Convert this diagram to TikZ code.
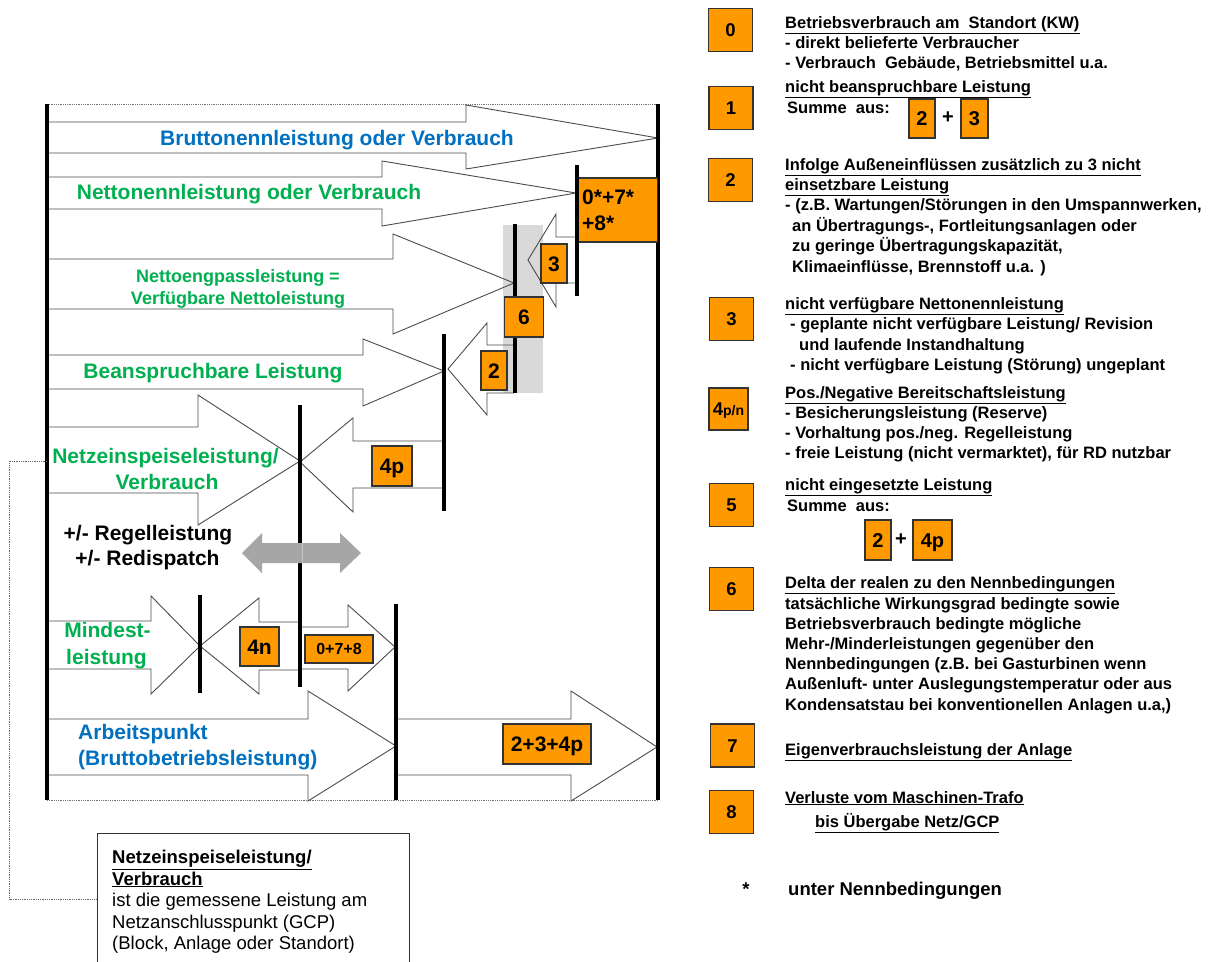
\documentclass[tikz,border=0pt]{standalone}
\usepackage{fontspec}
\setmainfont{Liberation Sans}
\definecolor{bluT}{HTML}{0070C0}
\definecolor{grnT}{HTML}{00B050}
\definecolor{orgF}{HTML}{FF9900}
\definecolor{grayR}{HTML}{D9D9D9}
\definecolor{grayA}{HTML}{A6A6A6}
\definecolor{grayS}{HTML}{C4C4C4}
\newcommand\fsz[1]{\fontsize{#1}{#1}\selectfont}
\newcommand\lgl[4]{\node[leg] (#1) at (#2,#3) {#4};}
\begin{document}
\begin{tikzpicture}[x=1pt,y=-1pt,
  outl/.style={draw=black!70, line width=0.9pt, line join=miter},
  vbar/.style={line width=4pt, black},
  frame/.style={densely dotted, draw=black!55, line width=0.8pt},
  obox/.style={draw=black!80, line width=1.3pt, fill=orgF, inner sep=0pt, font=\bfseries\fsz{21}, text height=15pt, text depth=0pt},
  lbox/.style={obox, minimum width=44pt, minimum height=43pt, font=\bfseries\fsz{18.5}, text height=13.3pt},
  dlab/.style={font=\bfseries\fsz{21}, inner sep=0pt, anchor=base},
  leg/.style={font=\bfseries\fsz{16.5}, inner sep=0pt, anchor=base west},
  nleg/.style={font=\fsz{18.5}, inner sep=0pt, anchor=base west}
]
\useasboundingbox (0,0) rectangle (1220,961);
\fill[white] (0,0) rectangle (1220,961);

% gray background band
\fill[grayR] (503,225) rectangle (543,393);

% frame lines
\draw[frame] (47,104) -- (658,104);
\draw[frame] (47,800) -- (658,800);

% right-pointing block arrows (outlines only)
\draw[outl] (47,122) -- (466,122) -- (466,105) -- (658,138) -- (466,169) -- (466,153) -- (47,153);
\draw[outl] (47,177) -- (382,177) -- (382,161) -- (576,193) -- (382,226) -- (382,209) -- (47,209);
\draw[outl] (47,259) -- (393,259) -- (393,234) -- (514,283) -- (393,334) -- (393,309) -- (47,309);
\draw[outl] (47,355) -- (363,355) -- (363,339) -- (444,371) -- (363,406) -- (363,389) -- (47,389);
\draw[outl] (47,427) -- (198,427) -- (198,395) -- (300,461) -- (198,525) -- (198,493) -- (47,493);
\draw[outl] (47,621) -- (151,621) -- (151,596) -- (200,646) -- (151,694) -- (151,669) -- (47,669);
\draw[outl] (300,627) -- (348,627) -- (348,605) -- (395,647) -- (348,691) -- (348,669) -- (300,669);
\draw[outl] (47,719) -- (308,719) -- (308,691) -- (396,746) -- (308,801) -- (308,775) -- (47,775);
\draw[outl] (397,719) -- (571,719) -- (571,691) -- (657,747) -- (571,801) -- (571,775) -- (397,775);

% left-pointing block arrows
\draw[outl] (576,237) -- (556,237) -- (556,214) -- (528,260) -- (556,307) -- (556,283) -- (576,283);
\draw[outl] (514,345) -- (487,345) -- (487,323) -- (448,369) -- (487,415) -- (487,393) -- (514,393);
\draw[outl] (444,441) -- (353,441) -- (353,418) -- (300,462) -- (353,512) -- (353,488) -- (444,488);
\draw[outl] (300,622) -- (259,622) -- (259,598) -- (200,646) -- (259,694) -- (259,670) -- (300,670);

% vertical bars
\draw[vbar] (47,104) -- (47,800);
\draw[vbar] (658,104) -- (658,800);
\draw[vbar] (515,224) -- (515,393);
\draw[vbar] (444,334) -- (444,511);
\draw[vbar] (300,405) -- (300,687);
\draw[vbar] (200,595) -- (200,693);
\draw[vbar] (396,604) -- (396,800);

% gray double arrow (lies over the bar)
\fill[grayA] (242,553) -- (262,533) -- (262,543) -- (340,543) -- (340,533) -- (361,553)
  -- (340,573) -- (340,563) -- (262,563) -- (262,573) -- cycle;
\draw[grayS, line width=0.8pt] (302,543) -- (302,563);

% orange boxes in the diagram
\node[obox, minimum width=81pt, minimum height=64pt] (b078s) at (617,210) {};
\node[dlab, anchor=base west] (b078sa) at (582,204.5) {0*+7*};
\node[dlab, anchor=base west] (b078sb) at (582,230.5) {+8*};
\draw[vbar] (577,165) -- (577,296);
\node[obox, minimum width=26pt, minimum height=39pt] (b3) at (554,263.5) {3};
\node[obox, minimum width=39pt, minimum height=40pt] (b6) at (524,317) {6};
\node[obox, minimum width=26pt, minimum height=39pt] (b2) at (494,370.5) {2};
\node[obox, minimum width=40pt, minimum height=40pt] (b4p) at (392,466) {4p};
\node[obox, minimum width=39pt, minimum height=39pt] (b4n) at (259.5,646.5) {4n};
\node[obox, minimum width=68pt, minimum height=28pt, font=\bfseries\fsz{16}, text height=11.5pt] (b078) at (339,649) {0+7+8};
\node[obox, minimum width=88pt, minimum height=40pt] (b234) at (547,744) {2+3+4p};

% diagram labels
\node[dlab, text=bluT] (tbrutto) at (337,145.5) {Bruttonennleistung oder Verbrauch};
\node[dlab, text=grnT] (tnetto) at (249,199.5) {Nettonennleistung oder Verbrauch};
\node[dlab, text=grnT, font=\bfseries\fsz{18}] (tengA) at (238,282.5) {Nettoengpassleistung =};
\node[dlab, text=grnT, font=\bfseries\fsz{18}] (tengB) at (238,304.5) {Verfügbare Nettoleistung};
\node[dlab, text=grnT] (tbean) at (213,378.5) {Beanspruchbare Leistung};
\node[dlab, text=grnT] (tnetzA) at (165.5,463.5) {Netzeinspeiseleistung/};
\node[dlab, text=grnT] (tnetzB) at (167,489.5) {Verbrauch};
\node[dlab] (tregA) at (148,540.5) {+/- Regelleistung};
\node[dlab] (tregB) at (147.5,565.5) {+/- Redispatch};
\node[dlab, text=grnT] (tminA) at (107.5,637.5) {Mindest-};
\node[dlab, text=grnT] (tminB) at (106.5,664.5) {leistung};
\node[dlab, text=bluT, anchor=base west] (tarbA) at (78,739.5) {Arbeitspunkt};
\node[dlab, text=bluT, anchor=base west] (tarbB) at (78,765.5) {(Bruttobetriebsleistung)};

% explanation box and dotted connector
\node[draw=black!80, line width=0.9pt, minimum width=312pt, minimum height=132pt, inner sep=0pt] (gcp) at (253,899) {};
\node[nleg, font=\bfseries\fsz{18.5}] (gcpA) at (112,863.5) {\underline{Netzeinspeiseleistung/}};
\node[nleg, font=\bfseries\fsz{18.5}] (gcpB) at (112,885) {\underline{Verbrauch}};
\node[nleg] (gcpC) at (112,906.5) {ist die gemessene Leistung am};
\node[nleg] (gcpD) at (112,928) {Netzanschlusspunkt (GCP)};
\node[nleg] (gcpE) at (112,949.5) {(Block, Anlage oder Standort)};
\coordinate (nzref) at (47,461);
\coordinate (nzturn) at (9.5,461);
\draw[densely dotted, draw=black!60, line width=0.8pt] (nzref) -- (nzturn) |- (gcp.west);

% legend boxes
\node[lbox] (L0) at (730.5,30) {0};
\node[lbox] (L1) at (731,108) {1};
\node[lbox] (L2) at (730.5,180) {2};
\node[lbox] (L3) at (731.5,319) {3};
\node[lbox, minimum width=39pt, minimum height=42pt] (L4) at (728.5,409) {4{\fsz{14}p/n}};
\node[lbox] (L5) at (731.5,505) {5};
\node[lbox] (L6) at (731.5,589) {6};
\node[lbox] (L7) at (732.5,745.5) {7};
\node[lbox] (L8) at (731.5,812) {8};
\node[obox, minimum width=26pt, minimum height=39pt, font=\bfseries\fsz{20}, text height=14.3pt] (S1a) at (922,118.5) {2};
\node[dlab, font=\bfseries\fsz{20}, anchor=center] (S1p) at (948,118) {+};
\node[obox, minimum width=27pt, minimum height=39pt, font=\bfseries\fsz{20}, text height=14.3pt] (S1b) at (974.5,118.5) {3};
\node[obox, minimum width=26pt, minimum height=40pt, font=\bfseries\fsz{20}, text height=14.3pt] (S5a) at (878,540) {2};
\node[dlab, font=\bfseries\fsz{20}, anchor=center] (S5p) at (901,540) {+};
\node[obox, minimum width=39pt, minimum height=40pt, font=\bfseries\fsz{20}, text height=14.3pt] (S5b) at (932.5,540) {4p};

% legend texts
\lgl{lg0a}{785}{28.5}{\underline{Betriebsverbrauch am\ \ Standort (KW)}}
\lgl{lg0b}{785}{48}{- direkt belieferte Verbraucher}
\lgl{lg0c}{785}{68}{- Verbrauch\ \ Gebäude, Betriebsmittel u.a.}
\lgl{lg1a}{785}{92.5}{\underline{nicht beanspruchbare Leistung}}
\lgl{lg1b}{787}{113}{Summe\ \ aus:}
\lgl{lg2a}{785}{170}{\underline{Infolge Außeneinflüssen zusätzlich zu 3 nicht}}
\lgl{lg2b}{785}{190}{\underline{einsetzbare Leistung}}
\lgl{lg2c}{785}{210}{- (z.B. Wartungen/Störungen in den Umspannwerken,}
\lgl{lg2d}{792}{231}{an Übertragungs-, Fortleitungsanlagen oder}
\lgl{lg2e}{792}{251}{zu geringe Übertragungskapazität,}
\lgl{lg2f}{792}{272}{Klimaeinflüsse, Brennstoff u.a. )}
\lgl{lg3a}{785}{309}{\underline{nicht verfügbare Nettonennleistung}}
\lgl{lg3b}{790}{329}{- geplante nicht verfügbare Leistung/ Revision}
\lgl{lg3c}{799}{350}{und laufende Instandhaltung}
\lgl{lg3d}{790}{370}{- nicht verfügbare Leistung (Störung) ungeplant}
\lgl{lg4a}{785}{398}{\underline{Pos./Negative Bereitschaftsleistung}}
\lgl{lg4b}{785}{418}{- Besicherungsleistung (Reserve)}
\lgl{lg4c}{785}{438}{- Vorhaltung pos./neg. Regelleistung}
\lgl{lg4d}{785}{458}{- freie Leistung (nicht vermarktet), für RD nutzbar}
\lgl{lg5a}{785}{490}{\underline{nicht eingesetzte Leistung}}
\lgl{lg5b}{787}{511}{Summe\ \ aus:}
\lgl{lg6a}{785}{588}{\underline{Delta der realen zu den Nennbedingungen}}
\lgl{lg6b}{785}{609}{tatsächliche Wirkungsgrad bedingte sowie}
\lgl{lg6c}{785}{629}{Betriebsverbrauch bedingte mögliche}
\lgl{lg6d}{785}{649}{Mehr-/Minderleistungen gegenüber den}
\lgl{lg6e}{785}{669}{Nennbedingungen (z.B. bei Gasturbinen wenn}
\lgl{lg6f}{785}{689}{Außenluft- unter Auslegungstemperatur oder aus}
\lgl{lg6g}{785}{710}{Kondensatstau bei konventionellen Anlagen u.a,)}
\lgl{lg7a}{785}{755}{\underline{Eigenverbrauchsleistung der Anlage}}
\lgl{lg8a}{785}{803}{\underline{Verluste vom Maschinen-Trafo}}
\lgl{lg8b}{815}{827}{\underline{bis Übergabe Netz/GCP}}
\node[dlab, font=\bfseries\fsz{18.5}] (star) at (746,895) {*};
\node[leg, font=\bfseries\fsz{18.5}] (starT) at (788,895) {unter Nennbedingungen};
\end{tikzpicture}
\end{document}
